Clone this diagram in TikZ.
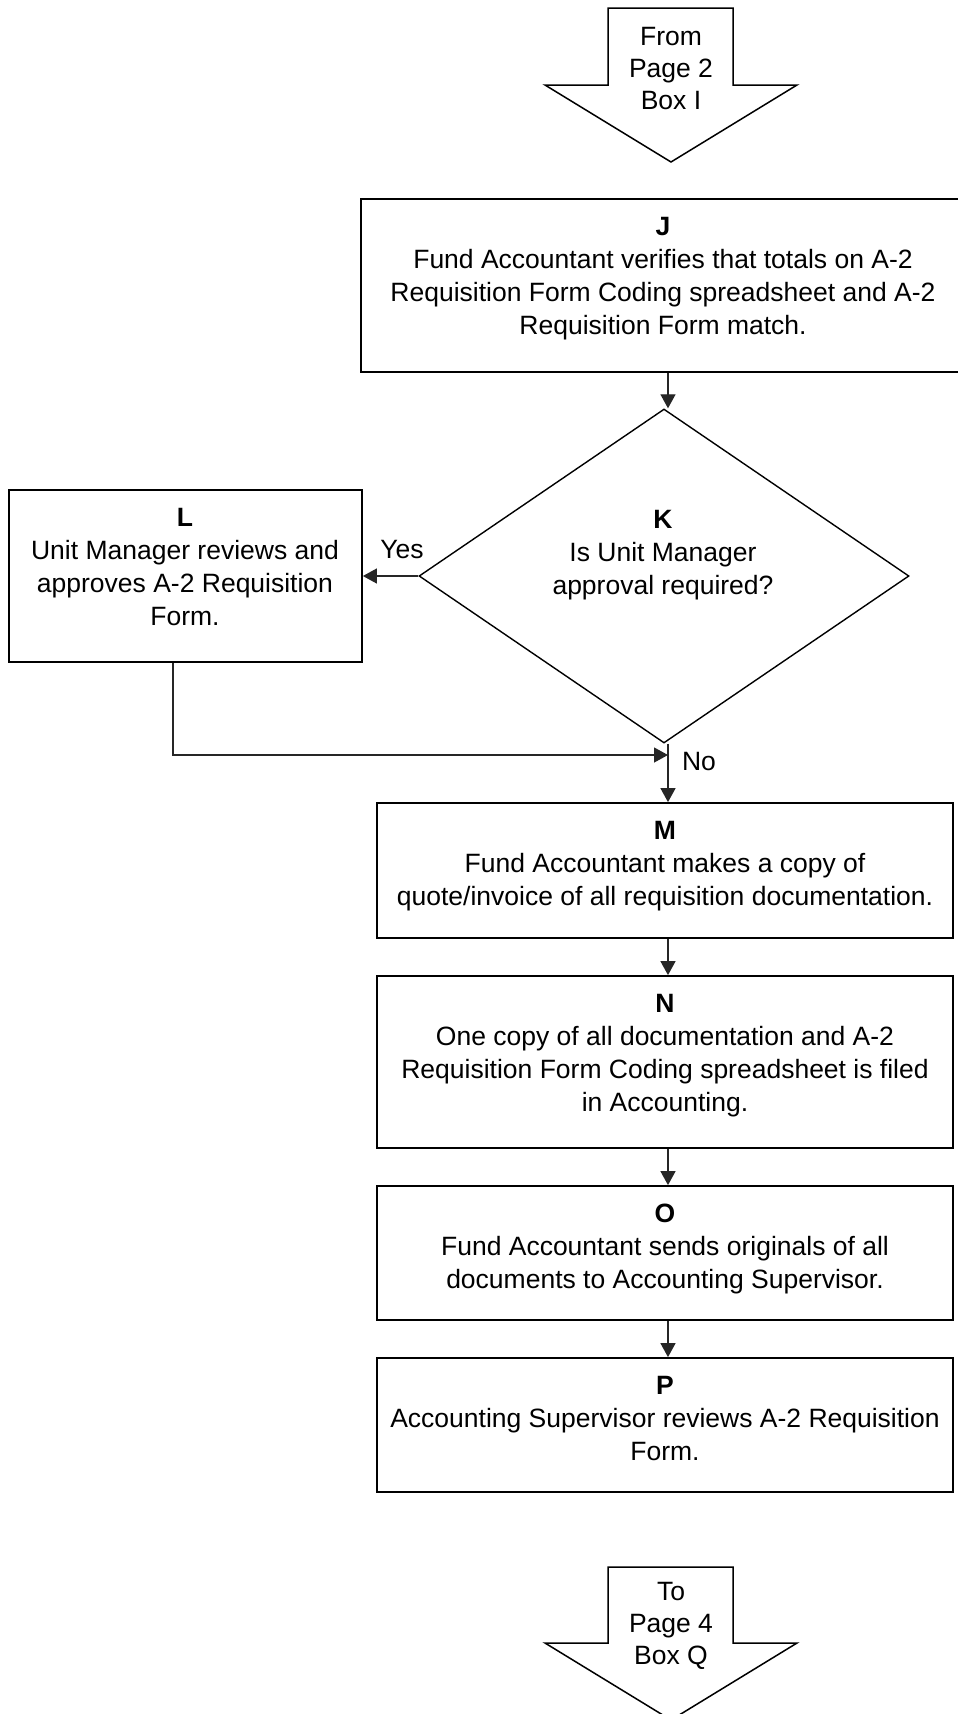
\documentclass[tikz,border=0pt]{standalone}
\usepackage{fontspec}
\setmainfont{Liberation Sans}
\usetikzlibrary{shapes.geometric,arrows.meta}
\begin{document}
\begin{tikzpicture}[x=1pt,y=-1pt,
  stepbox/.style={draw=black,line width=1.8pt,rectangle,inner sep=0pt,fill=none},
  decision/.style={draw=black,line width=1.4pt,diamond,inner sep=0pt,aspect=1},
  txt/.style={align=center,inner sep=0pt,font=\fontsize{26.5}{33}\selectfont},
  arrtxt/.style={align=center,inner sep=0pt,font=\fontsize{26.5}{32}\selectfont},
  lbl/.style={inner sep=0pt,font=\fontsize{26.5}{33}\selectfont},
  conn/.style={draw=black!85,line width=1.3pt,-{Triangle[length=14pt,width=15pt]}},
  blockarrow/.style={draw=black,line width=1.5pt,line join=miter,fill=white}]
\useasboundingbox (0,0) rectangle (958,1714);
\clip (0,0) rectangle (958,1714);
\fill[white] (0,0) rectangle (958,1714);

% top off-page connector
\draw[blockarrow] (608,8) -- (733,8) -- (733,85) -- (797,85) -- (671,162) -- (545,85) -- (608,85) -- cycle;
\node[arrtxt] (from) at (671,69) {From\\Page 2\\Box I};

% boxes
\node[stepbox,minimum width=604pt,minimum height=173pt] (J) at (663,285.5) {};
\node[txt] (Jt) at (663,278.6) {\textbf{J}\\Fund Accountant verifies that totals on A-2\\Requisition Form Coding spreadsheet and A-2\\Requisition Form match.};

\node[decision,minimum width=490pt,minimum height=334pt] (K) at (664,576) {};
\node[txt] (Kt) at (663,555.3) {\textbf{K}\\Is Unit Manager\\approval required?};

\node[stepbox,minimum width=353pt,minimum height=172pt] (L) at (185.5,576) {};
\node[txt] (Lt) at (185,567) {\textbf{L}\\Unit Manager reviews and\\approves A-2 Requisition\\Form.};

\node[stepbox,minimum width=576pt,minimum height=135pt] (M) at (665,870.5) {};
\node[txt] (Mt) at (665,866.3) {\textbf{M}\\Fund Accountant makes a copy of\\quote/invoice of all requisition documentation.};

\node[stepbox,minimum width=576pt,minimum height=172pt] (N) at (665,1062) {};
\node[txt] (Nt) at (665,1055.3) {\textbf{N}\\One copy of all documentation and A-2\\Requisition Form Coding spreadsheet is filed\\in Accounting.};

\node[stepbox,minimum width=576pt,minimum height=134pt] (O) at (665,1253) {};
\node[txt] (Ot) at (665,1248.8) {\textbf{O}\\Fund Accountant sends originals of all\\documents to Accounting Supervisor.};

\node[stepbox,minimum width=576pt,minimum height=134pt] (P) at (665,1425) {};
\node[txt] (Pt) at (665,1418.5) {\textbf{P}\\Accounting Supervisor reviews A-2 Requisition\\Form.};

% bottom off-page connector
\draw[blockarrow] (608,1567) -- (733,1567) -- (733,1643) -- (797,1643) -- (671,1720) -- (545,1643) -- (608,1643) -- cycle;
\node[arrtxt] (to) at (671,1626) {To\\Page 4\\Box Q};

% connectors
\coordinate (spine) at (668,0);
\coordinate (lc) at (173,0);
\coordinate (merge) at (668,755);
\draw[conn] (J.south -| spine) -- (K.north -| spine);
\draw[conn] (K.west) -- (L.east);
\node[lbl] (yes) at (402,550) {Yes};
\draw[conn] (K.south -| spine) -- (M.north -| spine);
\node[lbl] (no) at (699,762) {No};
\draw[conn] (L.south -| lc) |- (merge);
\draw[conn] (M.south -| spine) -- (N.north -| spine);
\draw[conn] (N.south -| spine) -- (O.north -| spine);
\draw[conn] (O.south -| spine) -- (P.north -| spine);
\end{tikzpicture}
\end{document}
